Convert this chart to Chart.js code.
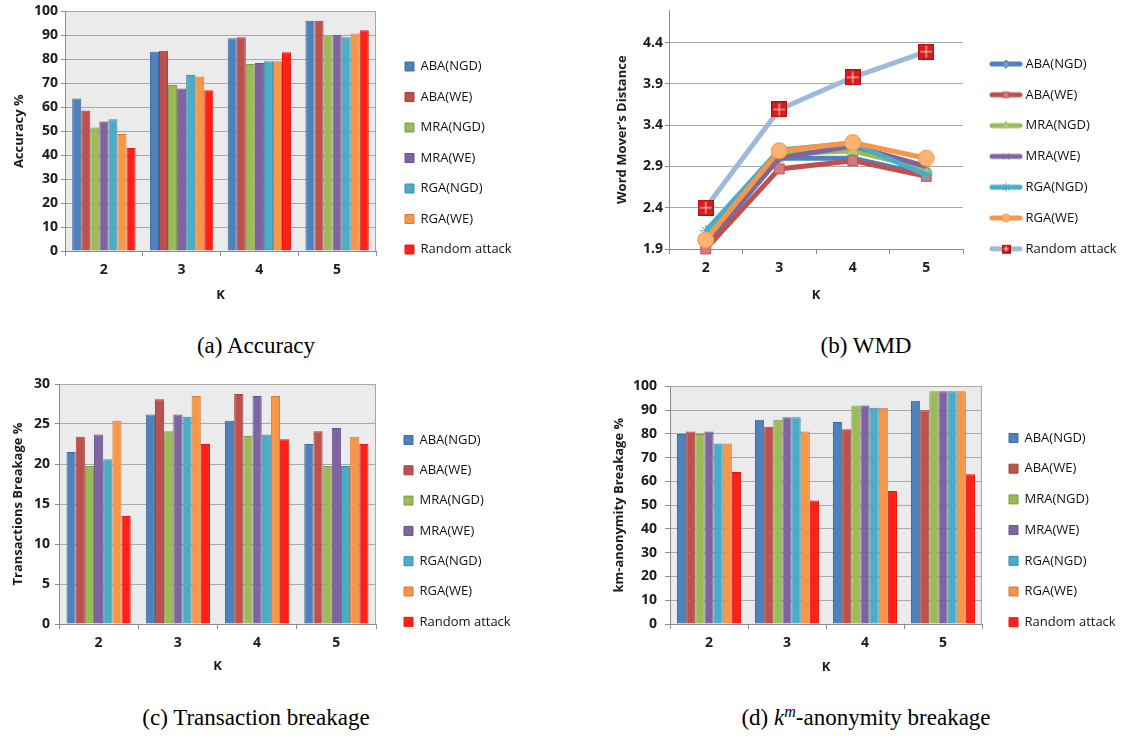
<!DOCTYPE html>
<html>
<head>
<meta charset="utf-8">
<script src="https://cdn.jsdelivr.net/npm/chart.js@4.4.1/dist/chart.umd.min.js"></script>
<style>
  html, body { margin: 0; padding: 0; background: #fff; }
  body { width: 1121px; height: 738px; position: relative; overflow: hidden; }
  canvas { position: absolute; }
  .cap {
    position: absolute; width: 400px; text-align: center; white-space: nowrap;
    font-family: "Liberation Serif", "Times New Roman", serif; font-size: 23px; line-height: 23px; color: #000;
  }
  .cap sup { font-size: 16px; line-height: 0; vertical-align: 8px; }
</style>
</head>
<body>
<canvas id="grafAcc" width="560" height="310" style="left:0;top:0"></canvas>
<canvas id="grafWmd" width="541" height="310" style="left:580px;top:0"></canvas>
<canvas id="grafTrans" width="560" height="310" style="left:0;top:370px"></canvas>
<canvas id="grafKm" width="541" height="310" style="left:580px;top:370px"></canvas>

<div class="cap" style="left:56px;top:334px">(a) Accuracy</div>
<div class="cap" style="left:666px;top:334px">(b) WMD</div>
<div class="cap" style="left:56px;top:706px">(c) Transaction breakage</div>
<div class="cap" style="left:666px;top:706px">(d) <i>k</i><sup><i>m</i></sup>-anonymity breakage</div>

<script>
// categorias y series comunes
const categorias = ["2", "3", "4", "5"];
const series = ["ABA(NGD)", "ABA(WE)", "MRA(NGD)", "MRA(WE)", "RGA(NGD)", "RGA(WE)", "Random attack"];

// (a) Accuracy %  - una fila por serie, en el orden de "series"
const valoresAccuracy = [
  [63.6, 83.2, 88.8, 96.1],
  [58.6, 83.6, 89.2, 96.1],
  [51.5, 69.3, 78.0, 89.9],
  [54.0, 67.8, 78.5, 90.3],
  [55.0, 73.5, 79.2, 89.2],
  [48.8, 72.8, 79.2, 90.8],
  [43.0, 67.1, 82.9, 92.1],
];
const ticksAccuracy = [0, 10, 20, 30, 40, 50, 60, 70, 80, 90, 100];

// (b) Word Mover's Distance
const valoresWmd = [
  [1.95, 3.0, 3.0, 2.8],
  [1.9, 2.87, 2.97, 2.78],
  [2.05, 3.05, 3.09, 2.87],
  [2.0, 3.0, 3.15, 2.9],
  [2.12, 3.1, 3.18, 2.8],
  [2.01, 3.09, 3.19, 3.0],
  [2.4, 3.59, 3.98, 4.29],
];
const ticksWmd = [1.9, 2.4, 2.9, 3.4, 3.9, 4.4];

// (c) Transactions Breakage %
const valoresTrans = [
  [21.5, 26.2, 25.4, 22.5],
  [23.4, 28.1, 28.75, 24.1],
  [19.75, 24.1, 23.5, 19.75],
  [23.7, 26.2, 28.5, 24.5],
  [20.6, 25.9, 23.7, 19.75],
  [25.4, 28.5, 28.5, 23.4],
  [13.5, 22.5, 23.1, 22.5],
];
const ticksTrans = [0, 5, 10, 15, 20, 25, 30];

// (d) km-anonymity Breakage %
const valoresKm = [
  [80, 86, 85, 94],
  [81, 83, 82, 90],
  [80, 86, 92, 98],
  [81, 87, 92, 98],
  [76, 87, 91, 98],
  [76, 81, 91, 98],
  [64, 52, 56, 63],
];
const ticksKm = [0, 10, 20, 30, 40, 50, 60, 70, 80, 90, 100];

const coloresBarra = ["#4f81bd", "#c0504d", "#9bbb59", "#8064a2", "#4bacc6", "#f79646", "#ff2119"];
const bordesBarra = ["#3f6a9c", "#9e403d", "#7f9a48", "#67508a", "#3a8ea6", "#d27a37", "#e01a12"];
const coloresLinea = ["#4f81bd", "#c0504d", "#9bbb59", "#8064a2", "#4bacc6", "#f79646", "#9db9dc"];

const colorTexto = "#1b1b1b";
Chart.defaults.font.family = "'Open Sans', 'DejaVu Sans', sans-serif";
Chart.defaults.color = colorTexto;

const fuenteTicks = { size: 14, weight: "bold" };
const fuenteTitulo = { size: 13, weight: "bold" };
const fuenteLeyenda = { size: 13 };

// rellena el area del grafico (fondo gris de Excel)
const fondoPlot = {
  id: "fondoPlot",
  beforeDraw(chart, args, opts) {
    if (!opts.color) return;
    const { ctx, chartArea: a } = chart;
    ctx.save();
    ctx.fillStyle = opts.color;
    ctx.fillRect(a.left, a.top, a.right - a.left, a.bottom - a.top);
    ctx.strokeStyle = opts.borde;
    ctx.lineWidth = 1;
    ctx.beginPath();
    ctx.moveTo(a.right - 0.5, a.top);
    ctx.lineTo(a.right - 0.5, a.bottom);
    ctx.stroke();
    ctx.restore();
  },
};

// deja la leyenda con ancho fijo y la coloca donde va
const leyendaFija = {
  id: "leyendaFija",
  beforeInit(chart, args, opts) {
    const lg = chart.legend;
    if (!lg) return;
    const fitOriginal = lg.fit;
    lg.fit = function () {
      fitOriginal.call(this);
      this.width = opts.ancho;
    };
  },
  afterLayout(chart, args, opts) {
    const lg = chart.legend;
    if (!lg) return;
    lg.left = opts.x - opts.padding;
    lg.top = opts.y - opts.padding - 6.5;
  },
};

function ejeY(cfg) {
  return {
    min: cfg.min,
    max: cfg.max,
    afterBuildTicks: (s) => {
      s.ticks = cfg.ticks.map((v) => ({ value: v }));
    },
    afterFit: (s) => {
      s.width = cfg.yAncho;
    },
    grid: { color: "#a8a8a8", tickColor: "#8c8c8c", tickLength: cfg.tickLen },
    border: { color: "#8c8c8c" },
    ticks: {
      font: fuenteTicks,
      color: colorTexto,
      padding: cfg.tickPad,
      callback: cfg.formato || ((v) => v),
    },
    title: {
      display: true,
      text: cfg.titulo,
      font: fuenteTitulo,
      color: colorTexto,
      padding: { top: cfg.tituloPad, bottom: 0 },
    },
  };
}

function ejeX(cfg) {
  return {
    offset: true,
    afterFit: (s) => {
      s.height = cfg.xAlto;
    },
    grid: { offset: true, drawOnChartArea: false, tickLength: 5, color: "#8c8c8c" },
    border: { color: "#8c8c8c" },
    ticks: { font: fuenteTicks, color: colorTexto, padding: 6 },
    title: {
      display: true,
      text: "K",
      font: fuenteTitulo,
      color: colorTexto,
      padding: { top: 0, bottom: cfg.kPad },
    },
  };
}

function crearGraficoBarras(canvas, valores, cfg) {
  const ctx = document.getElementById(canvas).getContext("2d");
  return new Chart(ctx, {
    type: "bar",
    data: {
      labels: categorias,
      datasets: series.map((nombre, i) => ({
        label: nombre,
        data: valores[i],
        backgroundColor: coloresBarra[i],
        borderColor: bordesBarra[i],
        borderWidth: 1,
        categoryPercentage: cfg.catPct,
        barPercentage: 1.0,
      })),
    },
    options: {
      responsive: false,
      animation: false,
      layout: { padding: { top: cfg.padTop, left: 0, right: 0, bottom: 0 } },
      scales: { x: ejeX(cfg), y: ejeY(cfg) },
      plugins: {
        tooltip: { enabled: false },
        legend: {
          position: "right",
          align: "start",
          labels: {
            font: fuenteLeyenda,
            color: "#111",
            boxWidth: 9,
            boxHeight: 9,
            padding: cfg.legPad,
          },
        },
        fondoPlot: { color: "#ebebeb", borde: "#a8a8a8" },
        leyendaFija: { ancho: cfg.legAncho, x: cfg.legX, y: cfg.legY, padding: cfg.legPad },
      },
    },
    plugins: [fondoPlot, leyendaFija],
  });
}

// marcador de "Random attack": cuadrado rojo con cruz blanca
function marcaRandom(tam) {
  const c = document.createElement("canvas");
  c.width = tam;
  c.height = tam;
  const g = c.getContext("2d");
  g.fillStyle = "#d81c1c";
  g.fillRect(0, 0, tam, tam);
  g.strokeStyle = "#a81212";
  g.lineWidth = 1;
  g.strokeRect(0.5, 0.5, tam - 1, tam - 1);
  g.strokeStyle = "rgba(255,255,255,0.85)";
  g.beginPath();
  g.moveTo(tam / 2, 2);
  g.lineTo(tam / 2, tam - 2);
  g.moveTo(2, tam / 2);
  g.lineTo(tam - 2, tam / 2);
  g.stroke();
  return c;
}

const estilosWmd = ["rectRot", "rect", "triangle", "crossRot", "star", "circle", marcaRandom(16)];
const radiosWmd = [5, 7, 7, 6, 6, 8, 8];
const rellenosWmd = ["#6e97c9", "#d87a77", "#b2cc7a", "#9a82b8", "#72c0d4", "#fbb273", "#d81c1c"];

// icono de la leyenda: linea gruesa con el marcador en medio
function iconoLeyenda(i) {
  const c = document.createElement("canvas");
  c.width = 34;
  c.height = 12;
  const g = c.getContext("2d");
  g.strokeStyle = coloresLinea[i];
  g.lineWidth = 5;
  g.lineCap = "round";
  g.beginPath();
  g.moveTo(3, 6);
  g.lineTo(31, 6);
  g.stroke();
  if (i === 6) {
    g.drawImage(marcaRandom(9), 12.5, 1.5);
  } else {
    g.fillStyle = rellenosWmd[i];
    g.strokeStyle = coloresLinea[i];
    g.lineWidth = 1;
    Chart.helpers.drawPoint(g, { pointStyle: estilosWmd[i], radius: 4, borderWidth: 1 }, 17, 6);
  }
  return c;
}

function crearGraficoLineas(canvas, valores, cfg) {
  const ctx = document.getElementById(canvas).getContext("2d");
  const iconos = series.map((s, i) => iconoLeyenda(i));
  return new Chart(ctx, {
    type: "line",
    data: {
      labels: categorias,
      datasets: series.map((nombre, i) => ({
        label: nombre,
        data: valores[i],
        borderColor: coloresLinea[i],
        backgroundColor: rellenosWmd[i],
        borderWidth: 5,
        pointStyle: estilosWmd[i],
        pointRadius: radiosWmd[i],
        pointBorderColor: i === 6 ? "#a81212" : coloresLinea[i],
        pointBackgroundColor: rellenosWmd[i],
        pointBorderWidth: 1,
        tension: 0,
        clip: 12,
        order: 6 - i,
      })),
    },
    options: {
      responsive: false,
      animation: false,
      layout: { padding: { top: cfg.padTop, left: 0, right: 0, bottom: 0 } },
      scales: { x: ejeX(cfg), y: ejeY(cfg) },
      plugins: {
        tooltip: { enabled: false },
        legend: {
          position: "right",
          align: "start",
          labels: {
            font: fuenteLeyenda,
            color: "#111",
            usePointStyle: true,
            pointStyleWidth: 26,
            padding: cfg.legPad,
            sort: (a, b) => a.datasetIndex - b.datasetIndex,
            generateLabels: (chart) =>
              Chart.defaults.plugins.legend.labels.generateLabels(chart).map((it) => {
                it.pointStyle = iconos[it.datasetIndex];
                return it;
              }),
          },
        },
        leyendaFija: { ancho: cfg.legAncho, x: cfg.legX, y: cfg.legY, padding: cfg.legPad },
      },
    },
    plugins: [leyendaFija],
  });
}

crearGraficoBarras("grafAcc", valoresAccuracy, {
  min: 0, max: 100, ticks: ticksAccuracy, titulo: "Accuracy %",
  padTop: 11, yAncho: 65, xAlto: 59, kPad: 7, tickLen: 4, tickPad: 3, tituloPad: 11,
  catPct: 0.815, legAncho: 184, legX: 405, legY: 66.5, legPad: 17.5,
});

crearGraficoBarras("grafTrans", valoresTrans, {
  min: 0, max: 30, ticks: ticksTrans, titulo: "Transactions Breakage %",
  padTop: 14, yAncho: 59, xAlto: 56, kPad: 6, tickLen: 4, tickPad: 5, tituloPad: 10,
  catPct: 0.81, legAncho: 184, legX: 404, legY: 70, legPad: 17.3,
});

crearGraficoBarras("grafKm", valoresKm, {
  min: 0, max: 100, ticks: ticksKm, titulo: "km-anonymity Breakage %",
  padTop: 12, yAncho: 90, xAlto: 56, kPad: 5, tickLen: 5, tickPad: 8, tituloPad: 31,
  catPct: 0.82, legAncho: 139, legX: 429, legY: 68, legPad: 17.7,
});

crearGraficoLineas("grafWmd", valoresWmd, {
  min: 1.9, max: 4.79, ticks: ticksWmd, titulo: "Word Mover\u2019s Distance",
  formato: (v) => v.toFixed(1),
  padTop: 8, yAncho: 89, xAlto: 61, kPad: 7, tickLen: 4, tickPad: 2, tituloPad: 34,
  legAncho: 158, legX: 413, legY: 64, legPad: 17.8,
});
</script>
</body>
</html>
